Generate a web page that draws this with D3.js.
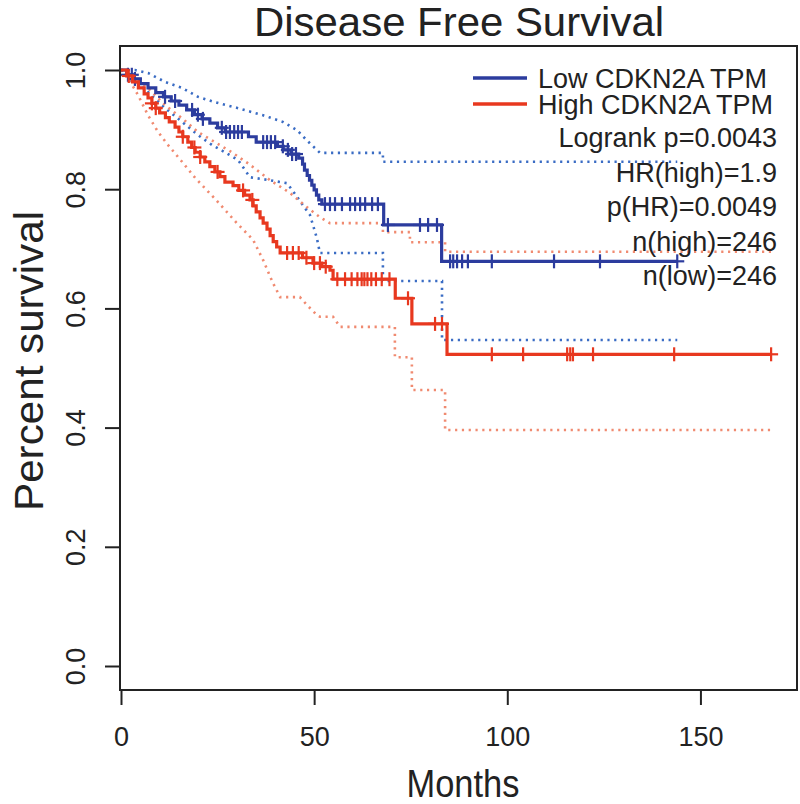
<!DOCTYPE html>
<html>
<head>
<meta charset="utf-8">
<script src="https://cdn.jsdelivr.net/npm/d3@7"></script>
<style>
  html, body { margin: 0; padding: 0; background: #fff; }
  svg { display: block; }
  text { font-family: "Liberation Sans", Arial, Helvetica, sans-serif; fill: #222; }
</style>
</head>
<body>
<svg id="chart" width="800" height="804"></svg>
<script>
// ---------------- data ----------------
const title = "Disease Free Survival";
const xLabel = "Months";
const yLabel = "Percent survival";
const xTicks = [0, 50, 100, 150];
const yTicks = [0.0, 0.2, 0.4, 0.6, 0.8, 1.0];
const seriesNames = ["Low CDKN2A TPM", "High CDKN2A TPM"];
const statLines = ["Logrank p=0.0043", "HR(high)=1.9", "p(HR)=0.0049", "n(high)=246", "n(low)=246"];

// Kaplan-Meier steps: [month, survival after the step]
const lowSteps = [[0,1],[1.5,0.992],[3,0.985],[5,0.977],[7,0.97],[9,0.962],[11,0.955],[13,0.948],[15,0.941],[17,0.933],[19,0.925],[21,0.918],[23,0.911],[25,0.903],[27,0.896],[33,0.888],[35,0.879],[40.5,0.872],[42,0.866],[44,0.859],[46,0.852],[47,0.842],[47.5,0.832],[48.2,0.823],[48.8,0.815],[49.4,0.807],[50,0.799],[50.6,0.79],[51.2,0.782],[52,0.775],[68,0.74],[83,0.679]];
const lowEnd = 144;
const highSteps = [[0,1],[1.5,0.99],[3,0.98],[4.5,0.97],[6,0.96],[7,0.953],[8,0.944],[9,0.936],[10,0.928],[11.5,0.92],[12.5,0.913],[14,0.904],[15,0.896],[16,0.888],[17.3,0.879],[18.3,0.87],[19.2,0.862],[20.5,0.854],[21.7,0.846],[23,0.838],[24.3,0.829],[25.6,0.821],[26.9,0.812],[29,0.806],[30.5,0.798],[32,0.79],[33.4,0.782],[34.2,0.772],[35,0.762],[36,0.752],[36.8,0.743],[37.8,0.733],[38.6,0.722],[39.4,0.712],[40.3,0.703],[41.2,0.693],[47,0.685],[49.7,0.676],[52,0.67],[54.1,0.664],[54.9,0.649],[71,0.617],[75.3,0.574],[84.4,0.523]];
const highEnd = 168.3;

// censored times
const lowCensor = [1.8,2.8,3.6,11.4,14,18.4,19.9,21.2,26.1,27.2,28.2,29.3,30.3,31.3,36.8,37.8,38.8,39.9,41.9,43.2,44.3,45.3,52.8,54.1,55.4,57.2,59.3,60.6,61.9,63.2,65,66.5,69.1,77.4,79.5,81.8,85.2,86,87,88.3,89.8,96,112.1,124,144];
const highCensor = [2,8,9,16,19,20.5,25,31.6,34,43,44.5,46,48,50,51.5,53,56,58,59.7,61.2,62.3,63,63.8,64.8,66,67.5,69.5,74.3,81.3,83.1,96,104.1,115.5,116.3,117,122.2,143.2,168.3];

// 95% confidence bounds: [month, survival]
const lowUpper = [[0,1],[3.6,1],[7,0.995],[11.4,0.98],[15.8,0.97],[19.9,0.955],[24.3,0.946],[30.3,0.936],[36.8,0.924],[41.9,0.913],[45.6,0.899],[48.1,0.882],[50.7,0.866],[51.5,0.861],[67.8,0.861],[67.8,0.846],[144,0.846]];
const lowLower = [[0,1],[1.8,0.992],[7,0.963],[11.4,0.936],[15.8,0.913],[19.9,0.891],[23.6,0.874],[26.9,0.862],[30.3,0.849],[33.4,0.82],[38.6,0.815],[43,0.81],[45.6,0.787],[47.1,0.773],[48.9,0.757],[49.7,0.74],[50.7,0.718],[51.5,0.693],[67.8,0.693],[67.8,0.646],[83.1,0.646],[83.1,0.547],[144,0.547]];
const highUpper = [[0,1],[2.8,0.992],[7,0.97],[11.4,0.941],[15.8,0.919],[19.9,0.896],[24.3,0.879],[28.7,0.862],[33.4,0.841],[38.6,0.815],[43.7,0.794],[48.1,0.77],[51.5,0.753],[54.1,0.743],[67.8,0.743],[67.8,0.728],[74.8,0.728],[74.8,0.711],[83.9,0.711],[83.9,0.695],[168.3,0.695]];
const highLower = [[0,1],[1.8,0.987],[4.4,0.958],[7,0.924],[9.6,0.896],[12.2,0.874],[15.8,0.846],[19.2,0.819],[24.6,0.782],[30,0.743],[34.2,0.715],[36.8,0.681],[39.3,0.643],[41.2,0.619],[46.3,0.619],[48.1,0.606],[50.7,0.589],[51.5,0.586],[54.9,0.586],[56.7,0.569],[70.9,0.569],[70.9,0.518],[75.3,0.518],[75.3,0.463],[83.9,0.463],[83.9,0.396],[168.3,0.396]];

// ---------------- drawing ----------------
const colors = { low: "#2c3c9e", high: "#e8381f", lowCI: "#3a6cc4", highCI: "#f08a70" };
const box = { left: 120, right: 797, top: 46, bottom: 690 };

const svg = d3.select("#chart");
const x = d3.scaleLinear().domain([0, 175]).range([121, 797]);
const y = d3.scaleLinear().domain([0, 1]).range([666, 70]);

// title
svg.append("text").attr("x", 459).attr("y", 36).attr("text-anchor", "middle")
  .attr("font-size", 40).attr("textLength", 410).attr("lengthAdjust", "spacingAndGlyphs").text(title);

// confidence lines
const ciLine = d3.line().x(d => x(d[0])).y(d => y(d[1]));
function drawCI(data, color) {
  svg.append("path").attr("d", ciLine(data)).attr("fill", "none")
    .attr("stroke", color).attr("stroke-width", 2.6)
    .attr("stroke-dasharray", "2.2,4.6");
}
drawCI(lowUpper, colors.lowCI);
drawCI(lowLower, colors.lowCI);
drawCI(highUpper, colors.highCI);
drawCI(highLower, colors.highCI);

// KM curves
const stepLine = d3.line().x(d => x(d[0])).y(d => y(d[1])).curve(d3.curveStepAfter);
function valueAt(steps, t) {
  const i = d3.bisector(d => d[0]).right(steps, t) - 1;
  return steps[Math.max(0, i)][1];
}
function drawKM(steps, end, censor, color) {
  const pts = steps.concat([[end, steps[steps.length - 1][1]]]);
  svg.append("path").attr("d", stepLine(pts)).attr("fill", "none")
    .attr("stroke", color).attr("stroke-width", 3.2);
  const g = svg.append("g").attr("stroke", color).attr("stroke-width", 2.2);
  censor.forEach(t => {
    const cx = x(t), cy = y(valueAt(steps, t));
    g.append("line").attr("x1", cx).attr("x2", cx).attr("y1", cy - 7).attr("y2", cy + 7);
    g.append("line").attr("x1", cx - 7).attr("x2", cx + 7).attr("y1", cy).attr("y2", cy);
  });
}
drawKM(lowSteps, lowEnd, lowCensor, colors.low);
drawKM(highSteps, highEnd, highCensor, colors.high);

// frame
svg.append("rect").attr("x", box.left).attr("y", box.top)
  .attr("width", box.right - box.left).attr("height", box.bottom - box.top)
  .attr("fill", "none").attr("stroke", "#222").attr("stroke-width", 2);

// x axis
const xAxis = d3.axisBottom(x).tickValues(xTicks).tickSize(15).tickPadding(22).tickFormat(d3.format("d"));
const gx = svg.append("g").attr("transform", `translate(0,${box.bottom})`).call(xAxis);
gx.select(".domain").remove();
gx.selectAll("line").attr("stroke", "#222").attr("stroke-width", 2);
gx.selectAll("text").attr("font-size", 27).attr("fill", "#222")
  .attr("font-family", '"Liberation Sans", Arial, sans-serif');

// y axis
const yAxis = d3.axisLeft(y).tickValues(yTicks).tickSize(15).tickFormat(d3.format(".1f"));
const gy = svg.append("g").attr("transform", `translate(${box.left},0)`).call(yAxis);
gy.select(".domain").remove();
gy.selectAll("line").attr("stroke", "#222").attr("stroke-width", 2);
gy.selectAll("text").attr("font-size", 27).attr("fill", "#222")
  .attr("font-family", '"Liberation Sans", Arial, sans-serif')
  .attr("text-anchor", "middle").attr("dy", null)
  .attr("x", 0).attr("y", 0)
  .attr("transform", "translate(-35,0) rotate(-90)");

// axis titles
svg.append("text").attr("x", 463).attr("y", 797).attr("text-anchor", "middle")
  .attr("font-size", 38).attr("textLength", 113).attr("lengthAdjust", "spacingAndGlyphs").text(xLabel);
svg.append("text").attr("transform", `translate(43,361) rotate(-90)`)
  .attr("text-anchor", "middle").attr("font-size", 41)
  .attr("textLength", 300).attr("lengthAdjust", "spacingAndGlyphs").text(yLabel);

// legend
const legendColors = [colors.low, colors.high];
seriesNames.forEach((name, i) => {
  const ly = 78 + i * 26;
  svg.append("line").attr("x1", 473).attr("x2", 527).attr("y1", ly).attr("y2", ly)
    .attr("stroke", legendColors[i]).attr("stroke-width", 3.5);
  svg.append("text").attr("x", 538).attr("y", ly + 10).attr("font-size", 27).text(name);
});
statLines.forEach((s, i) => {
  svg.append("text").attr("x", 777).attr("y", 147 + i * 34.5)
    .attr("text-anchor", "end").attr("font-size", 27).text(s);
});
</script>
</body>
</html>
